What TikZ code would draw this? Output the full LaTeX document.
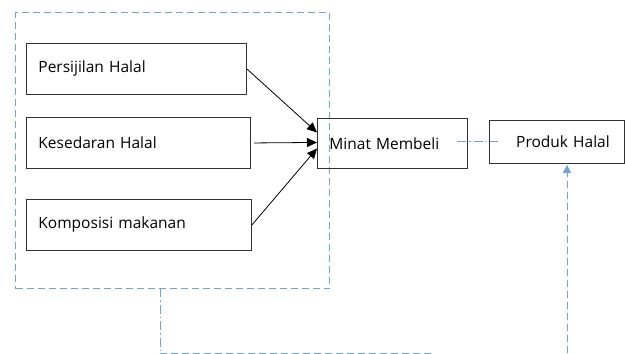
\documentclass[tikz,border=0pt]{standalone}
\usepackage{fontspec}
\setmainfont{Open Sans}
\usetikzlibrary{arrows.meta}
\definecolor{boxline}{RGB}{50,50,50}
\definecolor{dashblue}{RGB}{110,165,220}
\tikzset{
  box/.style={draw=boxline, line width=0.9pt, anchor=north west, inner xsep=12pt, inner ysep=0pt, align=left, font=\fontsize{15.5}{17}\selectfont},
  arr/.style={-{Triangle[length=10pt,width=9pt]}, line width=0.8pt, black},
  bluedash/.style={draw=dashblue, line width=1pt, dash pattern=on 7pt off 4pt},
  bluedashdot/.style={draw=dashblue, line width=1pt, dash pattern=on 9pt off 3pt on 1.5pt off 3pt},
}
\begin{document}
\begin{tikzpicture}[x=1pt,y=-1pt]
\useasboundingbox (0,0) rectangle (625,354);
% frame
\node[bluedash, anchor=north west, minimum width=314pt, minimum height=276pt, inner sep=0pt] (frame) at (15,12) {};
% boxes
\node[box, text width=196pt, minimum height=51pt] (p) at (26,43) {Persijilan Halal};
\node[box, text width=200pt, minimum height=51pt] (k) at (26,117) {Kesedaran Halal};
\node[box, text width=201pt, minimum height=51pt] (c) at (26,199) {Komposisi makanan};
\node[box, text width=126pt, minimum height=50pt] (m) at (317,118) {Minat Membeli};
\node[box, minimum height=43pt, inner xsep=0pt, align=center, text width=135pt] (pr) at (489,120) {\hspace{12pt}Produk Halal};
% arrows
\draw[arr] (p.east) -- ([yshift=11pt]m.west);
\draw[arr] ([xshift=3pt]k.east) -- ([yshift=1pt]m.west);
\draw[arr] (c.east) -- ([yshift=-5pt]m.west);
% dash-dot link
\coordinate (m1) at (457,141);
\coordinate (pr1) at (498,141);
\draw[bluedashdot] (m1) -- (pr1);
% bottom connector
\coordinate (b1) at (160,288);
\coordinate (b2) at (160,353);
\coordinate (b3) at (434,353);
\draw[bluedashdot] (b1) -- (b2);
\draw[bluedash] (b2) -- (b3);
% upward arrow
\coordinate (u1) at (567,353);
\draw[bluedash, -{Triangle[length=8pt,width=8pt]}, fill=dashblue] (u1) -- ([yshift=-1pt]pr.south -| u1);
\end{tikzpicture}
\end{document}
